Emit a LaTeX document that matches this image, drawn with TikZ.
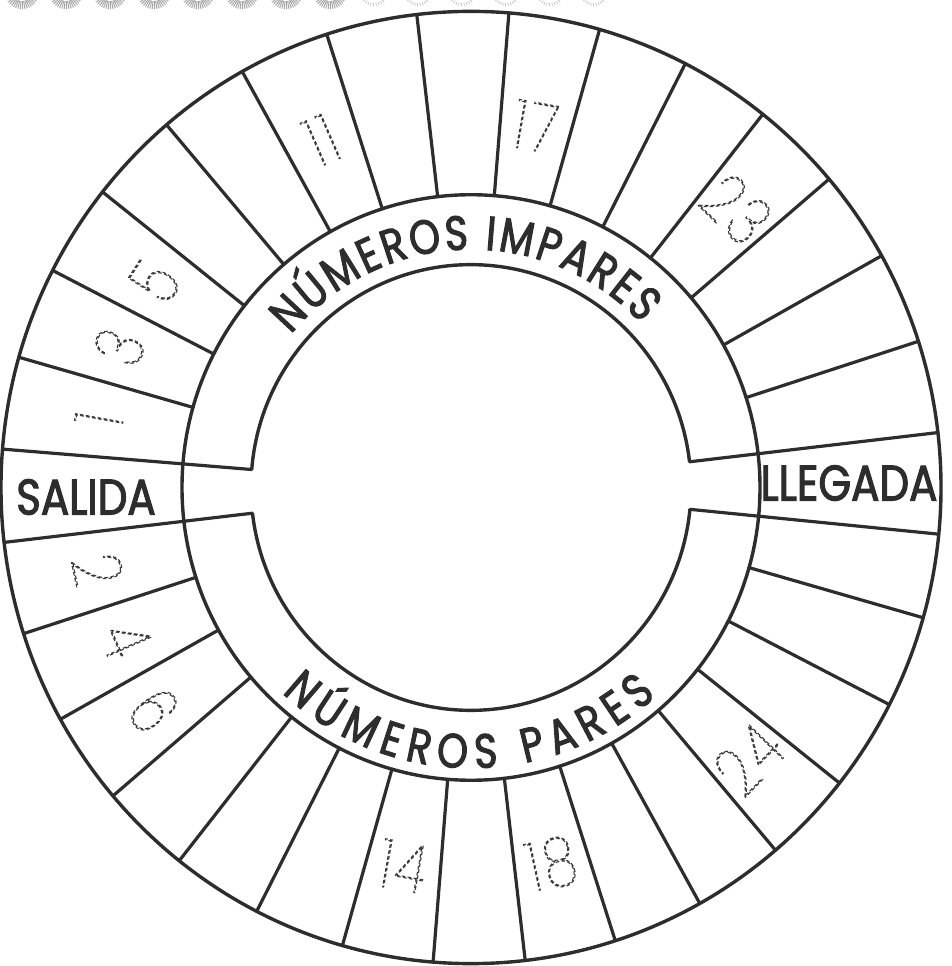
\documentclass[tikz,border=0pt]{standalone}
\usepackage{fontspec}
\usetikzlibrary{decorations.text}
\newfontfamily\gfont{Poppins}[FakeStretch=0.84,FakeBold=2.2]
\newfontfamily\bfont{Poppins}[FakeStretch=0.82,FakeBold=2.2]
\IfFontExistsTF{Poppins Thin}{\newfontfamily\dfont{Poppins Thin}[FakeStretch=0.78,LetterSpace=6]}{%
 \IfFontExistsTF{Poppins ExtraLight}{\newfontfamily\dfont{Poppins ExtraLight}[FakeStretch=0.78,LetterSpace=6]}{%
  \IfFontExistsTF{Lato Hairline}{\newfontfamily\dfont{Lato Hairline}[FakeStretch=0.85,LetterSpace=6]}{%
   \newfontfamily\dfont{Poppins}[FakeStretch=0.72,LetterSpace=6]}}}
\definecolor{ink}{RGB}{45,45,45}
\definecolor{trace}{RGB}{60,60,60}
\newcommand\traced[1]{\special{pdf:literal direct 1 Tr 0.55 w [1.8 1.2] 0 d}#1\special{pdf:literal direct 0 Tr [] 0 d}}
\begin{document}
\begin{tikzpicture}[x=0.5pt,y=0.5065pt,
  ring/.style={draw=ink,line width=1.7pt},
  cellline/.style={draw=ink,line width=1.6pt,line cap=round},
  bigword/.style={font=\gfont\fontsize{25}{25}\selectfont,text=ink,inner sep=0pt},
  numeral/.style={font=\dfont\fontsize{34}{34}\selectfont,text=trace,inner sep=0pt},
  fan/.style={draw=gray!70,line width=0.5pt},
  fanlight/.style={draw=gray!45,line width=0.4pt}]
\useasboundingbox (-471,-472.36) rectangle (480,481.24);
\coordinate (O) at (0,0);
% top-left scalloped border fragment
\begin{scope}
\clip (-471,-472.36) rectangle (480,481.24);
\foreach \i in {0,...,7} {
  \pgfmathsetmacro\cx{22+44*\i-471}
  \foreach \t in {192,200,...,348}
    \draw[fan] ([shift={(\t:9)}]\cx,489.2) -- ([shift={(\t:17)}]\cx,489.2);
}
\foreach \i in {8,...,13} {
  \pgfmathsetmacro\cx{22+44*\i-471}
  \foreach \t in {220,232,...,320}
    \draw[fanlight] ([shift={(\t:11)}]\cx,489.2) -- ([shift={(\t:14)}]\cx,489.2);
}
\end{scope}
% traced numbers (drawn first)
\foreach \n/\rad in {1/378,3/378,5/376,11/374,17/362,23/382} {
  \pgfmathsetmacro\a{181-11.25*(\n+1)/2}
  \pgfmathsetmacro\r{\a-90}
  \node[numeral,rotate=\r] (odd\n) at (\a:\rad) {\traced{\n}};
}
\foreach \n/\rad in {2/382,4/376,6/386,14/380,18/380,24/386} {
  \pgfmathsetmacro\a{181+11.25*\n/2}
  \pgfmathsetmacro\r{\a+90}
  \node[numeral,rotate=\r] (even\n) at (\a:\rad) {\traced{\n}};
}
% circles
\draw[ring] (O) circle[radius=470];
\draw[ring] (O) circle[radius=289];
% inner arcs (bands)
\draw[ring] (175.375:220) arc[start angle=175.375,end angle=6.625,radius=220];
\draw[ring] (186.625:220) arc[start angle=186.625,end angle=354.375,radius=220];
% cell dividers
\foreach \k in {1,...,14} {
  \pgfmathsetmacro\a{6.625+11.25*\k}
  \draw[cellline] (\a:289) -- (\a:470);
}
\foreach \k in {17,...,30} {
  \pgfmathsetmacro\a{6.625+11.25*\k}
  \draw[cellline] (\a:289) -- (\a:470);
}
\foreach \a in {6.625,175.375,186.625,354.375}
  \draw[cellline] (\a:220) -- (\a:470);
% start / finish
\node[bigword] (salida) at (-385,-9.4) {SALIDA};
\node[bigword] (llegada) at (378,4.4) {LLEGADA};
% curved band titles
\path[decorate,decoration={text along path,
  text={|\bfont\fontsize{24}{24}\selectfont|NÚMEROS IMPARES},
  text color=ink,text align={fit to path}}]
  (140:235) arc[start angle=140,end angle=43.5,radius=235];
\path[decorate,decoration={text along path,
  text={|\bfont\fontsize{24}{24}\selectfont|NÚMEROS PARES},
  text color=ink,text align={fit to path}}]
  (227:277) arc[start angle=227,end angle=312,radius=277];
\end{tikzpicture}
\end{document}
